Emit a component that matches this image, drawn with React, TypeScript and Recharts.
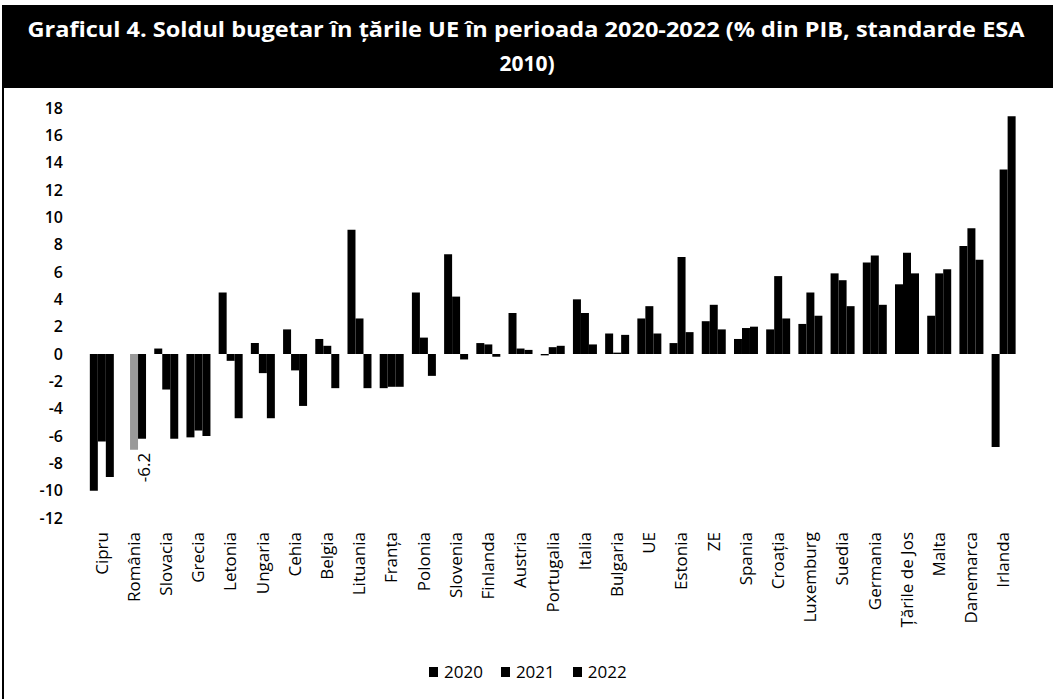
import React from "react";
import { BarChart, Bar, XAxis, YAxis, Cell, LabelList } from "recharts";

// Countries, sorted by the 2022 balance
const categories = [
  "Cipru", "România", "Slovacia", "Grecia", "Letonia", "Ungaria", "Cehia", "Belgia",
  "Lituania", "Franța", "Polonia", "Slovenia", "Finlanda", "Austria", "Portugalia",
  "Italia", "Bulgaria", "UE", "Estonia", "ZE", "Spania", "Croația", "Luxemburg",
  "Suedia", "Germania", "Țările de Jos", "Malta", "Danemarca", "Irlanda",
];

// Budget balance, % of GDP
const v2020: (number | null)[] = [
  -10.0, null, 0.4, -6.1, 4.5, 0.8, 1.8, 1.1, 9.1, -2.5, 4.5, 7.3, 0.8, 3.0, -0.1,
  4.0, 1.5, 2.6, 0.8, 2.4, 1.1, 1.8, 2.2, 5.9, 6.7, 5.1, 2.8, 7.9, -6.8,
];
const v2021: number[] = [
  -6.4, -7.0, -2.6, -5.6, -0.5, -1.4, -1.2, 0.6, 2.6, -2.4, 1.2, 4.2, 0.7, 0.4, 0.5,
  3.0, 0.1, 3.5, 7.1, 3.6, 1.9, 5.7, 4.5, 5.4, 7.2, 7.4, 5.9, 9.2, 13.5,
];
const v2022: number[] = [
  -9.0, -6.2, -6.2, -6.0, -4.7, -4.7, -3.8, -2.5, -2.5, -2.4, -1.6, -0.4, -0.2, 0.3, 0.6,
  0.7, 1.4, 1.5, 1.6, 1.8, 2.0, 2.6, 2.8, 3.5, 3.6, 5.9, 6.2, 6.9, 17.4,
];

const yTicks = [-12, -10, -8, -6, -4, -2, 0, 2, 4, 6, 8, 10, 12, 14, 16, 18];
const legendYears = ["2020", "2021", "2022"];
const labelledCountry = "România";
const titleLine1 =
  "Graficul 4. Soldul bugetar în țările UE în perioada 2020-2022 (% din PIB, standarde ESA";
const titleLine2 = "2010)";

const data = categories.map((name, i) => ({
  name,
  y2020: v2020[i],
  y2021: v2021[i],
  y2022: v2022[i],
}));

const FONT = "'Open Sans', 'DejaVu Sans', sans-serif";
const labelledIndex = categories.indexOf(labelledCountry);

const CountryTick = (props: any) => {
  const { x, y, payload } = props;
  return (
    <text
      x={x}
      y={y}
      transform={`rotate(-90 ${x} ${y})`}
      textAnchor="end"
      dominantBaseline="central"
      fontFamily={FONT}
      fontSize={17}
      fill="#000"
    >
      {payload.value}
    </text>
  );
};

const ValueLabel = (props: any) => {
  const { x, y, width, height, value, index } = props;
  if (index !== labelledIndex || value == null) return null;
  const cx = x + width / 2 + 1;
  const bottom = Math.max(y, y + height);
  const ty = bottom + 14;
  return (
    <text
      x={cx}
      y={ty}
      transform={`rotate(-90 ${cx} ${ty})`}
      textAnchor="end"
      dominantBaseline="central"
      fontFamily={FONT}
      fontSize={17}
      fill="#000"
    >
      {Number(value).toFixed(1)}
    </text>
  );
};

export default function App() {
  return (
    <div
      style={{
        position: "absolute",
        left: 0,
        top: 0,
        width: 1053,
        height: 699,
        background: "#fff",
        overflow: "hidden",
        fontFamily: FONT,
      }}
    >
      <BarChart
        width={1053}
        height={699}
        data={data}
        margin={{ top: 108, right: 34, bottom: 61, left: 0 }}
        barCategoryGap="15%"
        barGap={0}
      >
        <XAxis
          dataKey="name"
          interval={0}
          axisLine={false}
          tickLine={false}
          tickMargin={8}
          height={120}
          tick={<CountryTick />}
        />
        <YAxis
          domain={[-12, 18]}
          ticks={yTicks}
          interval={0}
          width={85}
          axisLine={false}
          tickLine={false}
          tickMargin={16}
          tick={{ fill: "#000", fontSize: 16, fontWeight: 600, fontFamily: FONT }}
        />
        <Bar dataKey="y2020" fill="#000" isAnimationActive={false} />
        <Bar dataKey="y2021" fill="#000" isAnimationActive={false}>
          {data.map((d, i) => (
            <Cell key={d.name} fill={i === labelledIndex ? "#9a9a9a" : "#000"} />
          ))}
        </Bar>
        <Bar dataKey="y2022" fill="#000" isAnimationActive={false}>
          <LabelList dataKey="y2022" content={<ValueLabel />} />
        </Bar>
      </BarChart>

      {/* title banner */}
      <svg
        width={1049}
        height={83}
        style={{ position: "absolute", left: 4, top: 5 }}
      >
        <rect x={0} y={0} width={1049} height={83} fill="#000" />
        <text
          x={522}
          y={24}
          textAnchor="middle"
          dominantBaseline="central"
          fill="#fff"
          fontFamily={FONT}
          fontWeight={700}
          fontSize={21}
          textLength={997}
          lengthAdjust="spacingAndGlyphs"
        >
          {titleLine1}
        </text>
        <text
          x={523}
          y={58}
          textAnchor="middle"
          dominantBaseline="central"
          fill="#fff"
          fontFamily={FONT}
          fontWeight={700}
          fontSize={21}
        >
          {titleLine2}
        </text>
      </svg>

      {/* left frame line */}
      <div
        style={{
          position: "absolute",
          left: 2,
          top: 5,
          width: 2,
          height: 694,
          background: "#000",
        }}
      />

      {/* legend */}
      <div
        style={{
          position: "absolute",
          left: 429,
          top: 661,
          display: "flex",
          alignItems: "center",
          fontSize: 17,
          lineHeight: "22px",
          color: "#000",
        }}
      >
        {legendYears.map((yr) => (
          <div
            key={yr}
            style={{ display: "flex", alignItems: "center", marginRight: 18 }}
          >
            <span
              style={{
                display: "inline-block",
                width: 9,
                height: 10,
                background: "#000",
                marginRight: 6,
              }}
            />
            <span>{yr}</span>
          </div>
        ))}
      </div>
    </div>
  );
}
